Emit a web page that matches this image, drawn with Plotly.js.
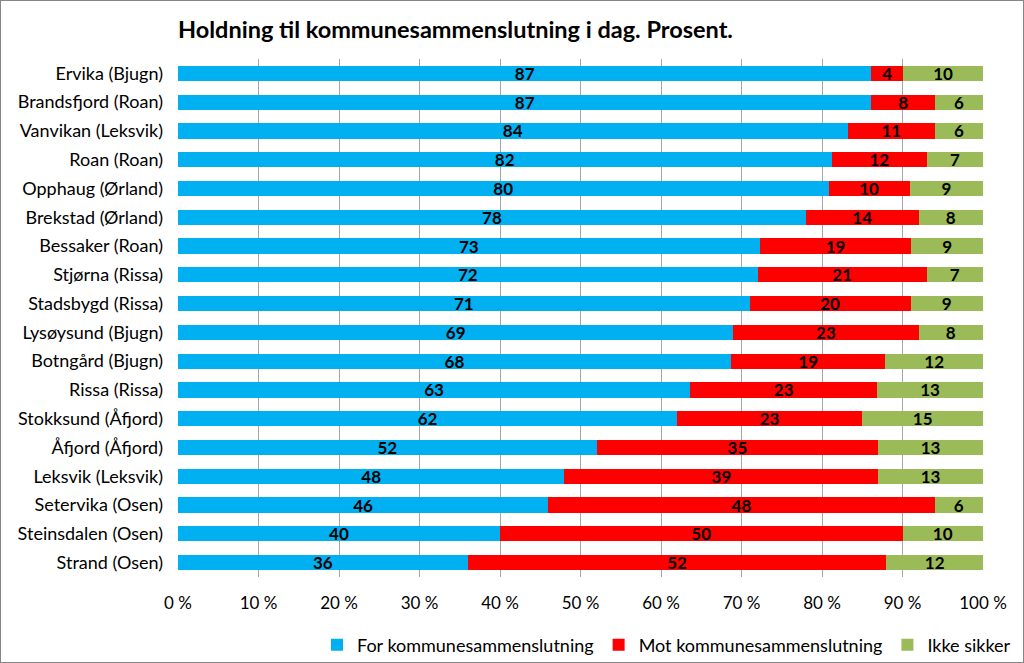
<!DOCTYPE html>
<html>
<head>
<meta charset="utf-8">
<script src="https://cdn.plot.ly/plotly-3.0.1.min.js"></script>
<style>
html,body{margin:0;padding:0;background:#fff;}
#wrap{position:relative;width:1024px;height:663px;}
#chart{width:1024px;height:663px;}
#frame{position:absolute;left:0;top:0;width:1024px;height:663px;box-sizing:border-box;border:1px solid #868686;pointer-events:none;}
</style>
</head>
<body>
<div id="wrap"><div id="chart"></div><div id="frame"></div></div>
<script>
const categories = ["Ervika (Bjugn)","Brandsfjord (Roan)","Vanvikan (Leksvik)","Roan (Roan)","Opphaug (Ørland)","Brekstad (Ørland)","Bessaker (Roan)","Stjørna (Rissa)","Stadsbygd (Rissa)","Lysøysund (Bjugn)","Botngård (Bjugn)","Rissa (Rissa)","Stokksund (Åfjord)","Åfjord (Åfjord)","Leksvik (Leksvik)","Setervika (Osen)","Steinsdalen (Osen)","Strand (Osen)"];
const forVals  = [87,87,84,82,80,78,73,72,71,69,68,63,62,52,48,46,40,36];
const motVals  = [4,8,11,12,10,14,19,21,20,23,19,23,23,35,39,48,50,52];
const ikkeVals = [10,6,6,7,9,8,9,7,9,8,12,13,15,13,13,6,10,12];
const seriesNames = ["For kommunesammenslutning","Mot kommunesammenslutning","Ikke sikker"];
const colors = ["#00B0F0","#FF0000","#9BBB59"];
const xTickVals = [0,10,20,30,40,50,60,70,80,90,100];

const FONT = "Lato, 'Open Sans', sans-serif";
const vals = [forVals, motVals, ikkeVals];
const traces = vals.map((v,i)=>({
  type:'bar', orientation:'h',
  x:v, y:categories, name:seriesNames[i],
  marker:{color:colors[i]},
  text:v.map(String), textposition:'inside', insidetextanchor:'middle', textangle:0,
  textfont:{family:FONT, size:17, color:'#000', weight:'bold'},
  hoverinfo:'none'
}));

const layout = {
  width:1024, height:663,
  barmode:'stack', barnorm:'percent', bargap:0.47,
  margin:{l:178, r:41, t:59, b:86},
  paper_bgcolor:'#fff', plot_bgcolor:'#fff',
  font:{family:FONT, size:18, color:'#000'},
  title:{text:'<b>Holdning til kommunesammenslutning i dag. Prosent.</b>', x:178/1024, xanchor:'left', y:1-30/663, yanchor:'middle', font:{family:FONT, size:23.5, color:'#000'}},
  xaxis:{range:[0,100], tickvals:xTickVals, ticktext:xTickVals.map(v=>v+' %'), showgrid:true, gridcolor:'#A6A6A6', gridwidth:1, zeroline:false, showline:false, ticks:'', tickfont:{size:17, color:'#000'}, ticklabelstandoff:14, fixedrange:true},
  yaxis:{autorange:'reversed', type:'category', showgrid:false, ticks:'', ticklen:0, tickfont:{size:18, color:'#000'}, ticklabelstandoff:14, showline:false},
  uniformtext:{mode:'show', minsize:17},
  legend:{orientation:'h', xref:'container', x:1016/1024, xanchor:'right', yref:'container', y:1-645/663, yanchor:'middle', font:{size:18, color:'#000'}, traceorder:'normal', itemwidth:30},
  showlegend:true
};
Plotly.newPlot('chart', traces, layout, {displayModeBar:false, staticPlot:true});
</script>
</body>
</html>
